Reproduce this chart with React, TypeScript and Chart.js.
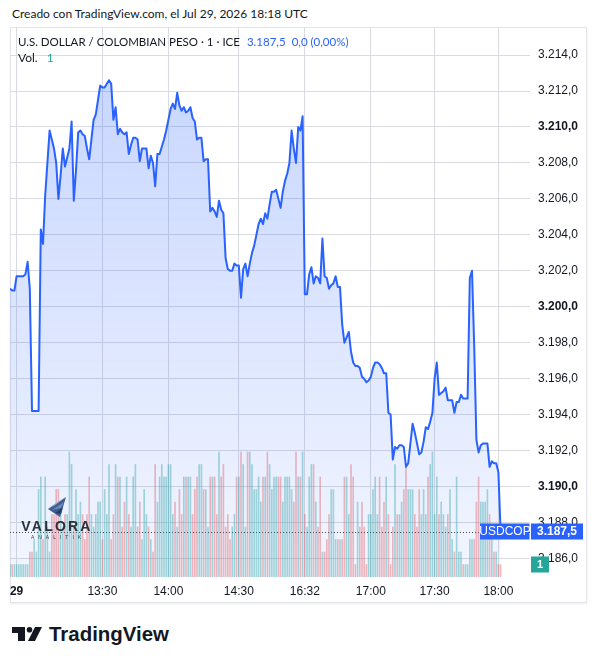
import React, { useEffect, useRef } from "react";
import { Chart, registerables } from "chart.js";

Chart.register(...registerables);

// ---- data ----
const symbol = "USDCOP";
const title = "U.S. DOLLAR / COLOMBIAN PESO · 1 · ICE";
const createdText = "Creado con TradingView.com, el Jul 29, 2026 18:18 UTC";

// 1-minute closes
const prices: number[] = [
  3201.0, 3200.9, 3200.9, 3201.7, 3201.7, 3201.7, 3201.7, 3201.8, 3202.5, 3201.0,
  3194.2, 3194.2, 3194.2, 3194.2, 3204.3, 3203.5, 3206.2, 3208.0, 3209.8, 3209.3,
  3208.8, 3208.0, 3206.0, 3207.3, 3208.8, 3207.8, 3208.3, 3208.8, 3210.3, 3205.9,
  3207.6, 3209.7, 3209.8, 3209.6, 3209.5, 3208.8, 3208.2, 3209.3, 3210.4, 3210.7,
  3211.5, 3212.3, 3212.2, 3212.2, 3212.4, 3212.6, 3212.4, 3210.4, 3211.1, 3209.6,
  3209.9, 3209.7, 3209.6, 3209.7, 3208.5, 3209.0, 3209.4, 3209.4, 3209.3, 3208.1,
  3208.8, 3208.8, 3208.8, 3207.7, 3208.4, 3208.0, 3206.7, 3208.5, 3208.5, 3208.9,
  3209.3, 3209.8, 3210.4, 3211.0, 3211.3, 3211.0, 3211.9, 3211.2, 3210.9, 3211.1,
  3210.8, 3210.9, 3211.1, 3210.5, 3210.3, 3209.3, 3209.4, 3209.4, 3208.1, 3208.2,
  3208.2, 3205.3, 3205.5, 3205.3, 3205.0, 3205.9, 3205.4, 3205.2, 3202.7, 3202.1,
  3202.0, 3202.0, 3202.4, 3202.3, 3202.3, 3200.5, 3202.1, 3202.4, 3201.7, 3202.4,
  3203.0, 3203.4, 3204.0, 3204.6, 3204.9, 3204.6, 3205.2, 3204.9, 3205.7, 3206.4,
  3206.4, 3206.5, 3206.0, 3205.5, 3206.4, 3207.0, 3207.4, 3208.0, 3209.8, 3208.8,
  3208.0, 3210.0, 3209.8, 3210.6, 3200.7, 3200.7, 3201.8, 3202.2, 3201.3, 3201.7,
  3201.6, 3201.3, 3203.8, 3201.7, 3201.6, 3201.0, 3201.2, 3201.3, 3201.7, 3201.1,
  3201.1, 3199.0, 3198.0, 3198.3, 3198.6, 3197.5, 3196.9, 3196.7, 3196.7, 3196.6,
  3196.1, 3196.0, 3195.8, 3195.9, 3196.1, 3196.6, 3196.9, 3196.9, 3196.8, 3196.6,
  3196.3, 3196.3, 3194.1, 3194.0, 3191.5, 3192.2, 3192.1, 3192.3, 3192.3, 3192.2,
  3191.1, 3191.3, 3192.4, 3193.5, 3193.0, 3192.4, 3191.8, 3191.9, 3192.5, 3193.3,
  3193.2, 3193.6, 3194.1, 3196.0, 3196.9, 3195.1, 3195.2, 3195.3, 3195.5, 3194.8,
  3194.8, 3194.8, 3194.1, 3194.7, 3194.7, 3195.1, 3194.9, 3194.9, 3194.9, 3201.6,
  3202.0, 3197.8, 3192.6, 3191.9, 3192.3, 3192.4, 3192.4, 3192.4, 3191.1, 3191.4,
  3191.3, 3191.3, 3190.8, 3187.5,
];

const volumes: number[] = [
  1, 1, 1, 1, 1, 1, 1, 1, 1, 2,
  2, 3, 2, 7, 8, 3, 8, 4, 2, 5,
  5, 7, 7, 6, 4, 5, 5, 10, 9, 4,
  7, 5, 6, 5, 3, 5, 8, 5, 4, 5,
  6, 6, 3, 7, 5, 9, 3, 5, 9, 8,
  8, 4, 6, 8, 5, 4, 8, 9, 4, 6,
  3, 7, 5, 4, 3, 2, 9, 6, 8, 9,
  8, 8, 9, 9, 5, 6, 4, 7, 5, 8,
  8, 8, 8, 5, 7, 8, 9, 9, 7, 7,
  4, 8, 8, 8, 5, 10, 8, 9, 4, 5,
  3, 4, 5, 8, 8, 10, 9, 4, 10, 10,
  9, 7, 7, 8, 6, 8, 8, 10, 9, 7,
  8, 8, 8, 8, 6, 8, 8, 8, 7, 6,
  10, 8, 8, 10, 5, 4, 8, 9, 9, 6,
  4, 8, 2, 2, 3, 5, 7, 7, 3, 3,
  3, 3, 8, 8, 5, 9, 8, 1, 6, 4,
  6, 4, 1, 5, 5, 7, 8, 5, 8, 4,
  6, 8, 5, 1, 4, 9, 5, 5, 6, 7,
  9, 7, 7, 7, 5, 4, 7, 5, 7, 5,
  8, 9, 10, 5, 8, 5, 6, 5, 4, 5,
  7, 3, 2, 8, 2, 2, 1, 1, 1, 3,
  3, 3, 6, 8, 6, 6, 6, 7, 5, 3,
  2, 2, 1, 1,
];

const timeTickIndex = [3, 42, 72, 104, 134, 164, 193, 222];
const timeTickLabel = ["29", "13:30", "14:00", "14:30", "16:32", "17:00", "17:30", "18:00"];
const priceTicks = [3186, 3188, 3190, 3192, 3194, 3196, 3198, 3200, 3202, 3204, 3206, 3208, 3210, 3212, 3214];

const LINE = "#2962ff";
const UP = "rgba(38,166,154,0.4)";
const DOWN = "rgba(239,83,80,0.4)";
const FONT = "'Liberation Sans', Arial, sans-serif";
const TEXT_FONT = "Lato, 'Liberation Sans', sans-serif";

function fmt(v: number): string {
  const [i, f] = v.toFixed(1).split(".");
  return i.replace(/\B(?=(\d{3})+(?!\d))/g, ".") + "," + f;
}

const tagPlugin = {
  id: "tags",
  beforeDatasetsDraw(chart: any) {
    const { ctx, chartArea: a, scales } = chart;
    const last = prices[prices.length - 1];
    const y = Math.round(scales.y.getPixelForValue(last)) + 0.5;
    ctx.save();
    ctx.strokeStyle = "#3a3e48";
    ctx.lineWidth = 1;
    ctx.setLineDash([1, 2]);
    ctx.beginPath();
    ctx.moveTo(a.left, y);
    ctx.lineTo(a.right, y);
    ctx.stroke();
    ctx.restore();
  },
  afterDraw(chart: any) {
    const { ctx, chartArea: a, scales } = chart;
    const last = prices[prices.length - 1];
    const lastVol = volumes[volumes.length - 1];
    const y = scales.y.getPixelForValue(last);
    ctx.save();
    ctx.fillStyle = LINE;
    ctx.fillRect(a.right - 50, y - 8, 49.5, 16);
    ctx.fillRect(a.right + 1, y - 8, 52, 16);
    ctx.fillStyle = "#ffffff";
    ctx.textBaseline = "middle";
    ctx.textAlign = "center";
    ctx.font = `12px ${FONT}`;
    ctx.fillText(symbol, a.right - 25, y + 0.5);
    ctx.font = `bold 12px ${FONT}`;
    ctx.fillText(fmt(last), a.right + 27, y + 0.5);
    const yv = scales.yv.getPixelForValue(lastVol);
    ctx.fillStyle = "#26a69a";
    ctx.fillRect(a.right + 1, yv - 8, 18, 16);
    ctx.fillStyle = "#ffffff";
    ctx.font = `bold 11px ${FONT}`;
    ctx.fillText(String(lastVol), a.right + 10, yv + 0.5);
    ctx.restore();
  },
};

function ChartCanvas() {
  const ref = useRef<HTMLCanvasElement | null>(null);
  useEffect(() => {
    if (!ref.current) return;
    const linePts = prices.map((p, i) => ({ x: i, y: p }));
    const volPts = volumes.map((v, i) => ({ x: i, y: v }));
    const volColors = volumes.map((_, i) =>
      i === 0 || prices[i] >= prices[i - 1] ? UP : DOWN
    );
    const chart = new Chart(ref.current, {
      type: "bar",
      data: {
        datasets: [
          {
            type: "line",
            data: linePts,
            yAxisID: "y",
            xAxisID: "x",
            borderColor: LINE,
            borderWidth: 2,
            pointRadius: 0,
            tension: 0,
            borderJoinStyle: "round",
            fill: "start",
            order: 0,
            backgroundColor: (c: any) => {
              const ch = c.chart;
              const ar = ch.chartArea;
              if (!ar) return "rgba(41,98,255,0.15)";
              const g = ch.ctx.createLinearGradient(0, ar.top + 40, 0, ar.bottom);
              g.addColorStop(0, "rgba(41,98,255,0.26)");
              g.addColorStop(1, "rgba(41,98,255,0.06)");
              return g;
            },
          } as any,
          {
            type: "bar",
            data: volPts,
            yAxisID: "yv",
            xAxisID: "x",
            backgroundColor: volColors,
            barThickness: 1,
            order: 1,
          } as any,
        ],
      },
      options: {
        animation: false,
        responsive: false,
        maintainAspectRatio: false,
        layout: { padding: 0 },
        plugins: { legend: { display: false }, tooltip: { enabled: false } },
        scales: {
          x: {
            type: "linear",
            offset: false,
            min: 0,
            max: 236.36,
            afterBuildTicks: (axis: any) => {
              axis.ticks = timeTickIndex.map((v) => ({ value: v }));
            },
            afterFit: (axis: any) => {
              axis.height = 27;
              axis.paddingLeft = 0;
              axis.paddingRight = 0;
            },
            grid: { color: "#d9dbe1", drawTicks: false, offset: false },
            border: { display: false },
            ticks: {
              autoSkip: false,
              maxRotation: 0,
              padding: 7,
              color: "#131722",
              font: (c: any) => ({
                family: FONT,
                size: 12,
                weight: c.tick && c.tick.value === timeTickIndex[0] ? "bold" : "normal",
              }),
              callback: (v: any) => {
                const k = timeTickIndex.indexOf(Number(v));
                return k >= 0 ? timeTickLabel[k] : "";
              },
            },
          },
          y: {
            type: "linear",
            position: "right",
            min: 3184.97,
            max: 3215.56,
            afterBuildTicks: (axis: any) => {
              axis.ticks = priceTicks.map((v) => ({ value: v }));
            },
            afterFit: (axis: any) => {
              axis.width = 58;
              axis.paddingTop = 0;
              axis.paddingBottom = 0;
            },
            grid: { color: "#d9dbe1", drawTicks: false },
            border: { display: false },
            ticks: {
              padding: 8,
              color: "#131722",
              font: (c: any) => ({
                family: FONT,
                size: 12,
                weight: c.tick && c.tick.value % 10 === 0 ? "bold" : "normal",
              }),
              callback: (v: any) => fmt(Number(v)),
            },
          },
          yv: {
            type: "linear",
            display: false,
            min: 0,
            max: 44,
            grid: { display: false },
          },
        },
      },
      plugins: [tagPlugin],
    });
    return () => chart.destroy();
  }, []);
  return (
    <canvas
      ref={ref}
      width={578}
      height={577}
      style={{ position: "absolute", left: 10, top: 27, width: 578, height: 577 }}
    />
  );
}

export default function App() {
  const last = prices[prices.length - 1];
  const prev = prices[prices.length - 1];
  const chg = last - prev;
  return (
    <div
      style={{
        position: "absolute",
        left: 0,
        top: 0,
        width: 598,
        height: 664,
        background: "#ffffff",
        fontFamily: TEXT_FONT,
        color: "#131722",
        overflow: "hidden",
      }}
    >
      <div style={{ position: "absolute", left: 12, top: 6, fontSize: 12, lineHeight: "16px", whiteSpace: "nowrap" }}>
        {createdText}
      </div>
      <div
        style={{
          position: "absolute",
          left: 10,
          top: 27,
          width: 577,
          height: 576,
          border: "1px solid #e3e5ea",
          boxSizing: "border-box",
          boxShadow: "0 1px 2px rgba(0,0,0,0.08)",
        }}
      />
      <ChartCanvas />
      <div style={{ position: "absolute", left: 18, top: 34, fontSize: 11.5, lineHeight: "16px", whiteSpace: "nowrap" }}>
        {title}
        <span style={{ color: LINE, marginLeft: 7 }}>{fmt(last)}</span>
        <span style={{ color: LINE, marginLeft: 6 }}>
          {fmt(chg)} ({chg.toFixed(2).replace(".", ",")}%)
        </span>
      </div>
      <div style={{ position: "absolute", left: 18, top: 50, fontSize: 12, lineHeight: "16px", whiteSpace: "nowrap" }}>
        Vol.<span style={{ color: "#26a69a", marginLeft: 9 }}>{volumes[volumes.length - 1]}</span>
      </div>
      <svg style={{ position: "absolute", left: 20, top: 493 }} width={78} height={52}>
        <polygon points="28,16 46,4 40,24" fill="#3d5f93" />
        <polygon points="30,14 46,4 34,13" fill="#8fa6c8" />
        <polygon points="32,17 44,9 41,15" fill="#6d8ab5" />
        <polygon points="35,20 43,14 41,21" fill="#27406a" />
        <text x={37} y={38} textAnchor="middle" fontFamily={FONT} fontWeight="bold" fontSize={14} fill="#2b2f36" letterSpacing={2.2}>
          VALORA
        </text>
        <text x={38} y={46} textAnchor="middle" fontFamily={FONT} fontSize={5} fill="#3a3e46" letterSpacing={4}>
          ANALITIK
        </text>
      </svg>
      <svg style={{ position: "absolute", left: 10, top: 622 }} width={170} height={26}>
        <rect x={2} y={5} width={13} height={6} fill="#131722" />
        <rect x={8} y={5} width={7} height={14} fill="#131722" />
        <circle cx={19.5} cy={7.8} r={2.8} fill="#131722" />
        <polygon points="18,19 25,5 32,5 25,19" fill="#131722" />
        <text x={39} y={19} fontFamily={FONT} fontWeight="bold" fontSize={20} fill="#131722" textLength={120} lengthAdjust="spacingAndGlyphs">
          TradingView
        </text>
      </svg>
    </div>
  );
}
